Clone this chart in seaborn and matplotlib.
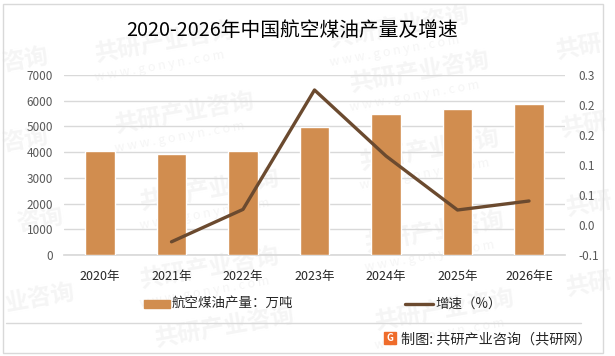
import numpy as np
import pandas as pd
import seaborn as sns
import matplotlib.pyplot as plt
from matplotlib.patches import Rectangle
from matplotlib.lines import Line2D

sns.set_theme(style="white")
plt.rcParams['font.family'] = ['Noto Sans CJK SC', 'DejaVu Sans']

# data
years = ['2020年', '2021年', '2022年', '2023年', '2024年', '2025年', '2026年E']
output = [4030, 3910, 4030, 4970, 5500, 5660, 5890]
growth = [np.nan, -0.028, 0.026, 0.225, 0.115, 0.025, 0.04]
left_ticks = [0, 1000, 2000, 3000, 4000, 5000, 6000, 7000]
right_ticks = [-0.05, 0, 0.05, 0.1, 0.15, 0.2, 0.25]
right_labels = ['-0.1', '0.0', '0.1', '0.1', '0.2', '0.2', '0.3']

title = '2020-2026年中国航空煤油产量及增速'
bar_name = '航空煤油产量：万吨'
line_name = '增速（%）'
source = '制图: 共研产业咨询（共研网）'

BAR = '#D18D4F'
LINE = '#6B4A2F'
GRID = '#D9D9D9'
WM = '#F5F5F5'
W, H = 615, 356

df = pd.DataFrame({'year': years, 'output': output, 'growth': growth, 'pos': np.arange(len(years))})

fig = plt.figure(figsize=(W / 100, H / 100), dpi=100, facecolor='white')
ax = fig.add_axes([64.25 / W, 1 - 255 / H, 500.5 / W, 180 / H])
ax.patch.set_alpha(0)

# faint watermarks, behind everything; the ones at the edges only show part of the name
wm_full = '共研产业咨询'
wm_marks = [(165, 42, wm_full), (400, 27, wm_full), (185, 113, wm_full), (420, 72, wm_full),
            (210, 190, wm_full), (430, 150, wm_full), (210, 268, wm_full), (435, 232, wm_full),
            (225, 327, wm_full), (445, 310, wm_full),
            (25, 60, '咨询'), (25, 140, '咨询'), (40, 220, '咨询'), (40, 298, '业咨询'),
            (580, 48, '共研'), (585, 126, '共研'), (590, 205, '共研'), (590, 285, '共研')]
for x, y, txt in wm_marks:
    fig.text(x / W, 1 - y / H, txt, fontsize=17, fontweight='bold', color=WM,
             rotation=10, ha='center', va='center', zorder=-5)
    if len(txt) > 3 and y < 320:
        fig.text((x - 5) / W, 1 - (y + 24) / H, 'w w w . g o n y n . c o m', fontsize=9, color=WM,
                 rotation=10, ha='center', va='center', zorder=-5)

# bars on the left axis
sns.barplot(data=df, x='year', y='output', color=BAR, saturation=1, width=0.41, ax=ax, zorder=3)
ax.set_xlim(-0.5, 6.5)
ax.set_ylim(0, 7000)
ax.set_yticks(left_ticks)
ax.set_xlabel('')
ax.set_ylabel('')
ax.yaxis.grid(True, color=GRID, lw=1)
ax.set_axisbelow(True)
sns.despine(ax=ax, left=True, right=True, top=True)
ax.spines['bottom'].set_color(GRID)
ax.tick_params(axis='y', length=0, labelsize=8.5, labelcolor='#595959', pad=8)
ax.tick_params(axis='x', length=0, labelsize=9, labelcolor='#262626', pad=11)

# growth line on the right axis
ax2 = ax.twinx()
sns.lineplot(data=df, x='pos', y='growth', color=LINE, lw=2.4, ax=ax2, zorder=4, errorbar=None)
ax2.set_ylim(-0.05, 0.25)
ax2.set_yticks(right_ticks)
ax2.set_yticklabels(right_labels)
ax2.set_ylabel('')
ax2.set_xlabel('')
ax2.grid(False)
sns.despine(ax=ax2, left=True, right=True, top=True, bottom=True)
ax2.tick_params(axis='y', length=0, labelsize=8.5, labelcolor='#595959', pad=10)

fig.text(292 / W, 1 - 31 / H, title, fontsize=14.2, color='black', ha='center', va='center')

# legend drawn by hand to hit the two separate positions
fig.add_artist(Rectangle((144 / W, 1 - 308 / H), 26 / W, 8 / H, color=BAR, transform=fig.transFigure))
fig.text(172 / W, 1 - 304 / H, bar_name, fontsize=9.7, color='#262626', ha='left', va='center')
fig.add_artist(Line2D([405 / W, 433 / W], [1 - 304 / H] * 2, color=LINE, lw=2.4, transform=fig.transFigure))
fig.text(435 / W, 1 - 304 / H, line_name, fontsize=9.7, color='#262626', ha='left', va='center')

# frame and footer
fig.add_artist(Rectangle((2.5 / W, 1 - 352.5 / H), 600 / W, 349 / H, fill=False, ec=GRID, lw=1,
                         transform=fig.transFigure))
fig.add_artist(Line2D([6 / W, 581 / W], [1 - 323 / H] * 2, color=GRID, lw=1, transform=fig.transFigure))
fig.add_artist(Rectangle((384 / W, 1 - 344 / H), 12 / W, 12 / H, color='#EF6C2B', transform=fig.transFigure))
fig.text(390 / W, 1 - 338 / H, 'G', fontsize=7, fontweight='bold', color='white', ha='center', va='center')
fig.text(401 / W, 1 - 339 / H, source, fontsize=10.2, color='#262626', ha='left', va='center')

fig.savefig('out.png', dpi=100)
